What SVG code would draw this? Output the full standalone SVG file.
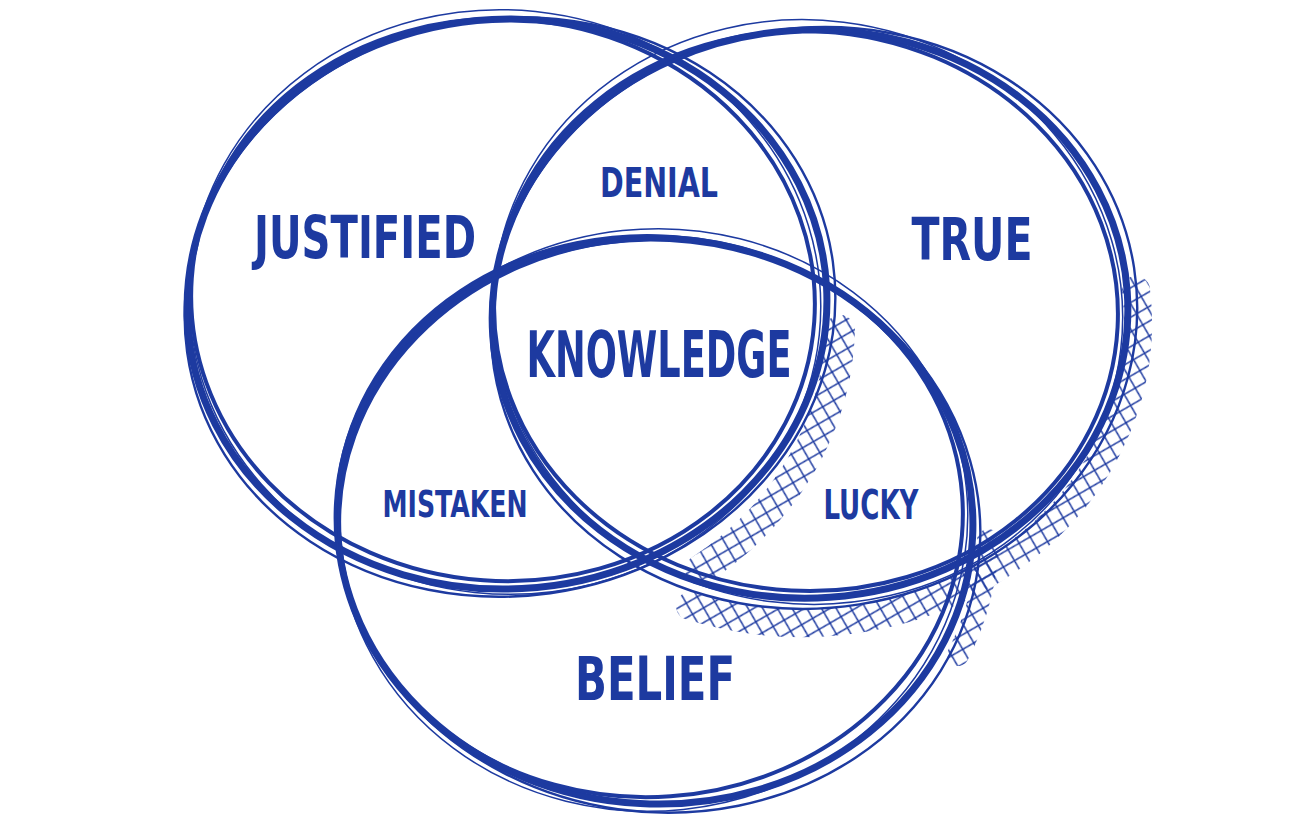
<svg xmlns="http://www.w3.org/2000/svg" width="1312" height="815" viewBox="0 0 1312 815">
<defs>
<style>
.c{fill:none;stroke:#1d3aa0;stroke-linecap:round}
.w1{stroke-width:7}
.w2{stroke-width:4}
.w3{stroke-width:2.4}
.w4{stroke-width:1.5}
.t{font-family:"Liberation Sans Narrow","DejaVu Sans Condensed","Liberation Sans",sans-serif;font-weight:bold;fill:#1d3aa0;text-anchor:middle}
.h{fill:none;stroke-linecap:round}
</style>
<pattern id="hatch" width="18" height="18" patternUnits="userSpaceOnUse" patternTransform="rotate(15)">
<path d="M0,0 L18,18 M-9,9 L9,27 M9,-9 L27,9 M18,0 L0,18 M9,-9 L-9,9 M27,9 L9,27" stroke="#1d3aa0" stroke-width="1.5" fill="none"/>
</pattern>
</defs>
<rect width="1312" height="815" fill="#ffffff"/>
<g id="hatching">
<path class="h" stroke="url(#hatch)" stroke-width="30" d="M840,330 A342,306 0 0 1 700,570"/>
<path class="h" stroke="url(#hatch)" stroke-width="28" d="M1136,290 A336,300 0 0 1 690,606"/>
<path class="h" stroke="url(#hatch)" stroke-width="22" d="M988,540 A336,300 0 0 1 958,655"/>
</g>
<g id="justified">
<ellipse class="c w1" cx="507" cy="304" rx="320" ry="285" transform="rotate(-3 507 304)"/>
<ellipse class="c w2" cx="503" cy="300" rx="312" ry="281" transform="rotate(4 503 300)"/>
<ellipse class="c w3" cx="510" cy="307" rx="326" ry="289" transform="rotate(-8 510 307)"/>
<ellipse class="c w4" cx="505" cy="302" rx="316" ry="292" transform="rotate(6 505 302)"/>
<text class="t" x="365" y="258" font-size="58" textLength="222" lengthAdjust="spacingAndGlyphs">JUSTIFIED</text>
</g>
<g id="true">
<ellipse class="c w1" cx="810" cy="314" rx="318" ry="284" transform="rotate(-4 810 314)"/>
<ellipse class="c w2" cx="806" cy="311" rx="312" ry="280" transform="rotate(3 806 311)"/>
<ellipse class="c w3" cx="814" cy="318" rx="324" ry="290" transform="rotate(-9 814 318)"/>
<ellipse class="c w4" cx="808" cy="312" rx="315" ry="292" transform="rotate(7 808 312)"/>
<text class="t" x="972" y="260" font-size="58" textLength="121" lengthAdjust="spacingAndGlyphs">TRUE</text>
</g>
<g id="belief">
<ellipse class="c w1" cx="655" cy="521" rx="318" ry="283" transform="rotate(3 655 521)"/>
<ellipse class="c w2" cx="651" cy="518" rx="312" ry="279" transform="rotate(-4 651 518)"/>
<ellipse class="c w3" cx="658" cy="524" rx="323" ry="288" transform="rotate(8 658 524)"/>
<ellipse class="c w4" cx="653" cy="520" rx="315" ry="291" transform="rotate(-6 653 520)"/>
<text class="t" x="655" y="700" font-size="60" textLength="160" lengthAdjust="spacingAndGlyphs">BELIEF</text>
</g>
<g id="denial">
<text class="t" x="659" y="197" font-size="41" textLength="118" lengthAdjust="spacingAndGlyphs">DENIAL</text>
</g>
<g id="knowledge">
<text class="t" x="659" y="377" font-size="64" textLength="265" lengthAdjust="spacingAndGlyphs">KNOWLEDGE</text>
</g>
<g id="mistaken">
<text class="t" x="455" y="517" font-size="38" textLength="145" lengthAdjust="spacingAndGlyphs">MISTAKEN</text>
</g>
<g id="lucky">
<text class="t" x="871" y="519" font-size="40" textLength="95" lengthAdjust="spacingAndGlyphs">LUCKY</text>
</g>
<g id="connectors"></g>
</svg>
